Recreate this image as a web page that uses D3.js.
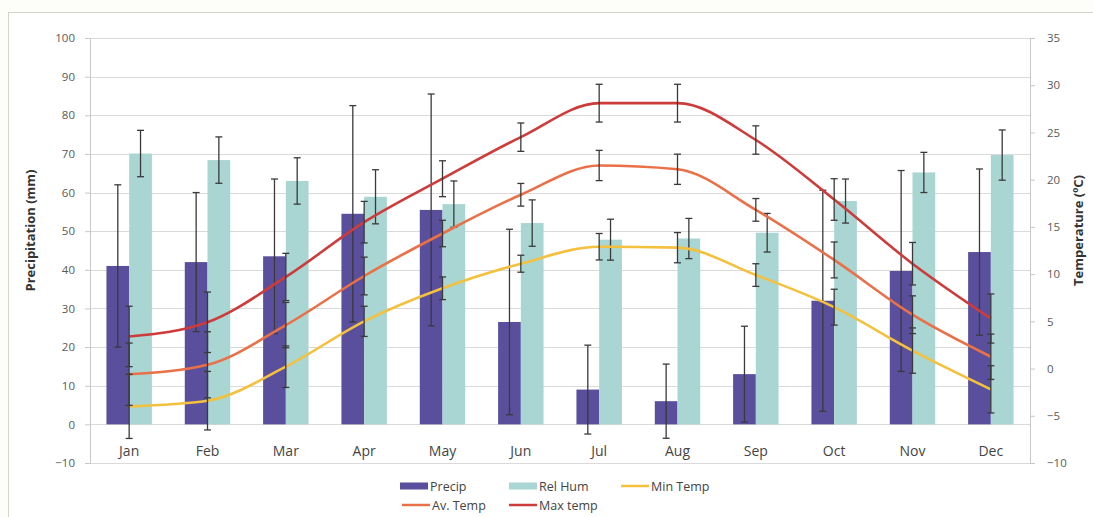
<!DOCTYPE html>
<html><head><meta charset="utf-8">
<script src="https://cdn.jsdelivr.net/npm/d3@7"></script>
<style>
body{margin:0;background:#fdfdf9;}
svg{display:block;font-family:"Open Sans",sans-serif;}
</style></head>
<body><svg id="c" width="1093" height="517"></svg>
<script>
const months = ["Jan","Feb","Mar","Apr","May","Jun","Jul","Aug","Sep","Oct","Nov","Dec"];
const precip    = [41, 42, 43.5, 54.5, 55.5, 26.5, 9, 6, 13, 32, 39.7, 44.6];
const precipErr = [21, 18, 20, 28, 30, 24, 11.5, 9.6, 12.4, 28.6, 26, 21.5];
const relHum    = [70.1, 68.4, 63, 58.9, 57, 52.1, 47.8, 48.1, 49.6, 57.8, 65.2, 69.7];
const relHumErr = [6, 6, 6, 7, 6, 6, 5.3, 5.2, 5, 5.7, 5.2, 6.5];
const minTemp   = [-4.0, -3.4, 0.2, 5.0, 8.5, 11.1, 12.9, 12.8, 9.9, 6.5, 1.9, -2.2];
const minErr    = [3.4, 3.1, 2.2, 1.6, 1.2, 0.9, 1.4, 1.6, 1.2, 1.9, 2.4, 2.5];
const avTemp    = [-0.6, 0.4, 4.6, 9.8, 14.3, 18.4, 21.5, 21.1, 16.8, 11.5, 5.7, 1.25];
const avErr     = [3.3, 3.5, 2.4, 2.0, 1.4, 1.2, 1.6, 1.6, 1.2, 1.9, 2.0, 2.4];
const maxTemp   = [3.4, 4.9, 9.7, 15.5, 20.1, 24.5, 28.1, 28.1, 24.2, 17.9, 11.1, 5.3];
const maxErr    = [3.2, 3.2, 2.5, 2.2, 1.9, 1.5, 2.0, 2.0, 1.5, 2.2, 2.25, 2.6];
const leftTicks  = [-10,0,10,20,30,40,50,60,70,80,90,100];
const rightTicks = [-10,-5,0,5,10,15,20,25,30,35];

const C = {precip:"#5a4f9c", hum:"#a9d5d2", min:"#f4c13e", av:"#ea7047", max:"#cd3b3b"};
const svg = d3.select("#c");
const L = 90, R = 1030, T = 38, B = 463;

// frame
svg.append("rect").attr("x",8.5).attr("y",12.5).attr("width",1100).attr("height",520)
  .attr("fill","#ffffff").attr("stroke","#d8d4c4");

const x = d3.scaleBand().domain(months).range([L,R]).paddingInner(0.42).paddingOuter(0.21);
const xs = d3.scaleBand().domain(["p","h"]).range([0,x.bandwidth()]);
const yL = d3.scaleLinear().domain([-10,100]).range([B,T]);
const yR = d3.scaleLinear().domain([-10,35]).range([B,T]);
const cx = m => x(m) + x.bandwidth()/2;

// gridlines
svg.append("g").selectAll("line").data(leftTicks).join("line")
  .attr("x1",L).attr("x2",R).attr("y1",d=>Math.round(yL(d))+0.5).attr("y2",d=>Math.round(yL(d))+0.5)
  .attr("stroke","#dadada").attr("stroke-width",1);

// axes
const axL = svg.append("g").attr("transform",`translate(${L},0)`)
  .call(d3.axisLeft(yL).tickValues(leftTicks).tickSize(5).tickPadding(10));
const axR = svg.append("g").attr("transform",`translate(${R},0)`)
  .call(d3.axisRight(yR).tickValues(rightTicks).tickSize(5).tickPadding(12));
[axL,axR].forEach(a=>{
  a.select(".domain").attr("stroke","#c8c8c8");
  a.selectAll(".tick line").attr("stroke","#c8c8c8");
  a.selectAll("text").attr("fill","#5a5a5a").style("font-size","11.5px").style("font-family","'Open Sans',sans-serif");
});

// month labels
svg.append("g").selectAll("text").data(months).join("text")
  .attr("x",d=>cx(d)).attr("y",456).attr("text-anchor","middle")
  .attr("fill","#444").style("font-size","14px").text(d=>d);

// bars
const g = svg.append("g");
g.selectAll(".bp").data(months).join("rect").attr("class","bp")
  .attr("x",d=>x(d)+xs("p")).attr("width",xs.bandwidth())
  .attr("y",(d,i)=>yL(precip[i])).attr("height",(d,i)=>yL(0)-yL(precip[i]))
  .attr("fill",C.precip);
g.selectAll(".bh").data(months).join("rect").attr("class","bh")
  .attr("x",d=>x(d)+xs("h")).attr("width",xs.bandwidth())
  .attr("y",(d,i)=>yL(relHum[i])).attr("height",(d,i)=>yL(0)-yL(relHum[i]))
  .attr("fill",C.hum);

function errBars(xf, vals, errs, y){
  const eg = svg.append("g").attr("stroke","#3a3a3a").attr("stroke-width",1.3);
  months.forEach((m,i)=>{
    const xx = xf(m), y1 = y(vals[i]+errs[i]), y2 = y(vals[i]-errs[i]);
    eg.append("line").attr("x1",xx).attr("x2",xx).attr("y1",y1).attr("y2",y2);
    eg.append("line").attr("x1",xx-3.5).attr("x2",xx+3.5).attr("y1",y1).attr("y2",y1);
    eg.append("line").attr("x1",xx-3.5).attr("x2",xx+3.5).attr("y1",y2).attr("y2",y2);
  });
}
errBars(m=>x(m)+xs("p")+xs.bandwidth()/2, precip, precipErr, yL);
errBars(m=>x(m)+xs("h")+xs.bandwidth()/2, relHum, relHumErr, yL);

// lines
const line = d3.line().x((d,i)=>cx(months[i])).y(d=>yR(d)).curve(d3.curveMonotoneX);
[[minTemp,C.min],[avTemp,C.av],[maxTemp,C.max]].forEach(([v,c])=>{
  svg.append("path").datum(v).attr("d",line).attr("fill","none").attr("stroke",c).attr("stroke-width",2.6);
});
errBars(cx, minTemp, minErr, yR);
errBars(cx, avTemp, avErr, yR);
errBars(cx, maxTemp, maxErr, yR);

// axis titles
svg.append("text").attr("transform",`translate(35,${(T+B)/2-20}) rotate(-90)`).attr("text-anchor","middle")
  .attr("fill","#333").style("font-size","13px").style("font-weight","bold").text("Precipitation (mm)");
svg.append("text").attr("transform",`translate(1083,${(T+B)/2-20}) rotate(-90)`).attr("text-anchor","middle")
  .attr("fill","#333").style("font-size","13px").style("font-weight","bold").text("Temperature (ºC)");

// legend
const leg = [
  {t:"Precip", c:C.precip, type:"rect", x:400, y:486},
  {t:"Rel Hum", c:C.hum, type:"rect", x:509, y:486},
  {t:"Min Temp", c:C.min, type:"line", x:621, y:486},
  {t:"Av. Temp", c:C.av, type:"line", x:402, y:505},
  {t:"Max temp", c:C.max, type:"line", x:509, y:505}
];
const lg = svg.append("g");
leg.forEach(d=>{
  if(d.type==="rect") lg.append("rect").attr("x",d.x).attr("y",d.y-3.5).attr("width",28).attr("height",7).attr("fill",d.c);
  else lg.append("line").attr("x1",d.x).attr("x2",d.x+28).attr("y1",d.y).attr("y2",d.y).attr("stroke",d.c).attr("stroke-width",2.5);
  lg.append("text").attr("x",d.x+30).attr("y",d.y+4.5).attr("fill","#444").style("font-size","12.5px").text(d.t);
});
</script></body></html>
